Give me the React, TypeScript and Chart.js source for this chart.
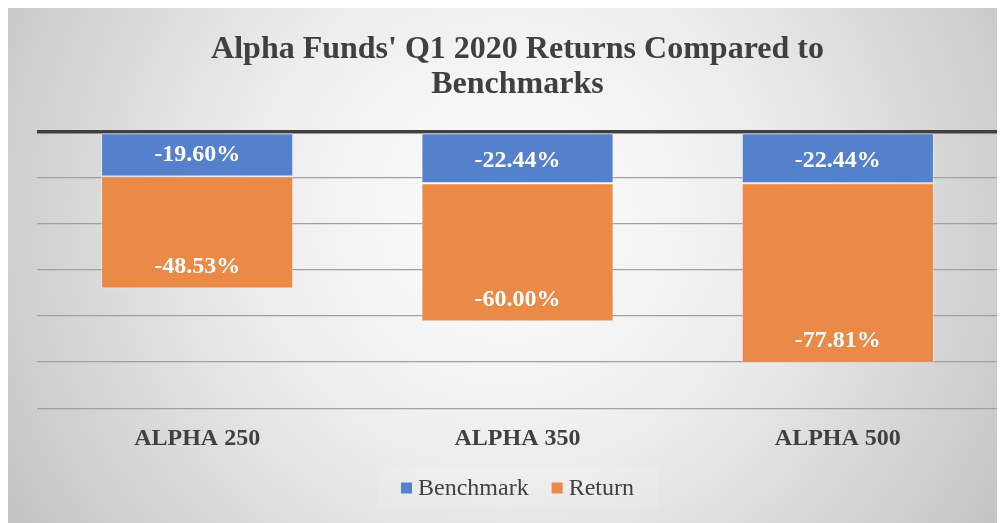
import React, { useEffect, useRef } from "react";
import { Chart, registerables } from "chart.js";

Chart.register(...registerables);

const categories = ["ALPHA 250", "ALPHA 350", "ALPHA 500"];
const benchmark = [-19.6, -22.44, -22.44];
const returns = [-48.53, -60.0, -77.81];
const seriesNames = ["Benchmark", "Return"];
const seriesColors = ["#5580cb", "#eb8947"];
const yMin = -120;
const yMax = 0;
const yStep = 20;

const SERIF = "'Liberation Serif', 'Times New Roman', serif";

const bgPlugin = {
  id: "bgGradient",
  beforeDraw(chart: any) {
    const { ctx, width, height } = chart;
    ctx.save();
    const g = ctx.createRadialGradient(width / 2, height * 0.4, 0, width / 2, height * 0.4, width * 0.6);
    g.addColorStop(0, "#ffffff");
    g.addColorStop(0.45, "#ececec");
    g.addColorStop(1, "#c2c2c2");
    ctx.fillStyle = g;
    ctx.fillRect(0, 0, width, height);
    ctx.restore();
  },
};

const labelPlugin = {
  id: "barLabels",
  afterDatasetsDraw(chart: any) {
    const { ctx } = chart;
    ctx.save();
    ctx.font = "bold 24px " + SERIF;
    ctx.fillStyle = "#ffffff";
    ctx.textAlign = "center";
    ctx.textBaseline = "middle";
    chart.data.datasets.forEach((ds: any, di: number) => {
      const meta = chart.getDatasetMeta(di);
      meta.data.forEach((el: any, i: number) => {
        const v = ds.data[i];
        ctx.fillText(v.toFixed(2) + "%", el.x, el.y - 22);
      });
    });
    ctx.restore();
  },
};

const legendPlugin = {
  id: "customLegend",
  afterDraw(chart: any) {
    const { ctx, chartArea } = chart;
    ctx.save();
    ctx.font = "24px " + SERIF;
    const box = 11;
    const gapBoxText = 6;
    const gapItems = 23;
    const items = chart.data.datasets.map((d: any) => ({
      label: d.label,
      color: d.backgroundColor,
      w: ctx.measureText(d.label).width,
    }));
    let total = 0;
    items.forEach((it: any, i: number) => {
      total += box + gapBoxText + it.w + (i > 0 ? gapItems : 0);
    });
    const cx = (chartArea.left + chartArea.right) / 2;
    const cy = 483;
    let x = cx - total / 2;
    ctx.fillStyle = "rgba(255,255,255,0.12)";
    ctx.fillRect(x - 24, cy - 21, total + 48, 42);
    ctx.textBaseline = "middle";
    ctx.textAlign = "left";
    items.forEach((it: any) => {
      ctx.fillStyle = it.color;
      ctx.fillRect(x, cy - box / 2, box, box);
      x += box + gapBoxText;
      ctx.fillStyle = "#404040";
      ctx.fillText(it.label, x, cy + 1);
      x += it.w + gapItems;
    });
    ctx.restore();
  },
};

export default function App() {
  const ref = useRef<HTMLCanvasElement>(null);
  useEffect(() => {
    if (!ref.current) return;
    const chart = new Chart(ref.current, {
      type: "bar",
      data: {
        labels: categories,
        datasets: [
          {
            label: seriesNames[0],
            data: benchmark,
            backgroundColor: seriesColors[0],
            borderColor: "rgba(255,255,255,0.35)",
            borderWidth: 1,
            borderSkipped: false,
          },
          {
            label: seriesNames[1],
            data: returns,
            backgroundColor: seriesColors[1],
            borderColor: "rgba(255,255,255,0.35)",
            borderWidth: 1,
            borderSkipped: false,
          },
        ],
      },
      options: {
        animation: false,
        responsive: false,
        layout: { padding: { left: 29, right: 7, top: 27, bottom: 62 } },
        plugins: {
          title: {
            display: true,
            text: ["Alpha Funds' Q1 2020 Returns Compared to", "Benchmarks"],
            font: { family: SERIF, size: 32, weight: "bold", lineHeight: 1.1 },
            color: "#404040",
            padding: { top: 0, bottom: 29 },
          },
          legend: { display: false },
          tooltip: { enabled: false },
        },
        scales: {
          x: {
            stacked: true,
            grid: { display: false },
            border: { display: false },
            ticks: {
              font: { family: SERIF, size: 24, weight: "bold" },
              color: "#404040",
              padding: 8,
            },
          },
          y: {
            stacked: true,
            min: yMin,
            max: yMax,
            border: { display: false },
            ticks: { display: false, stepSize: yStep },
            grid: {
              drawTicks: false,
              color: (c: any) => (c.tick && c.tick.value === 0 ? "#404040" : "#a0a0a0"),
              lineWidth: (c: any) => (c.tick && c.tick.value === 0 ? 3.5 : 1.2),
            },
          },
        },
        datasets: { bar: { categoryPercentage: 1, barPercentage: 0.6 } },
      } as any,
      plugins: [bgPlugin, labelPlugin, legendPlugin],
    });
    return () => chart.destroy();
  }, []);
  return (
    <div style={{ marginTop: -3 }}>
      <canvas ref={ref} width={997} height={518} style={{ display: "block" }} />
    </div>
  );
}
